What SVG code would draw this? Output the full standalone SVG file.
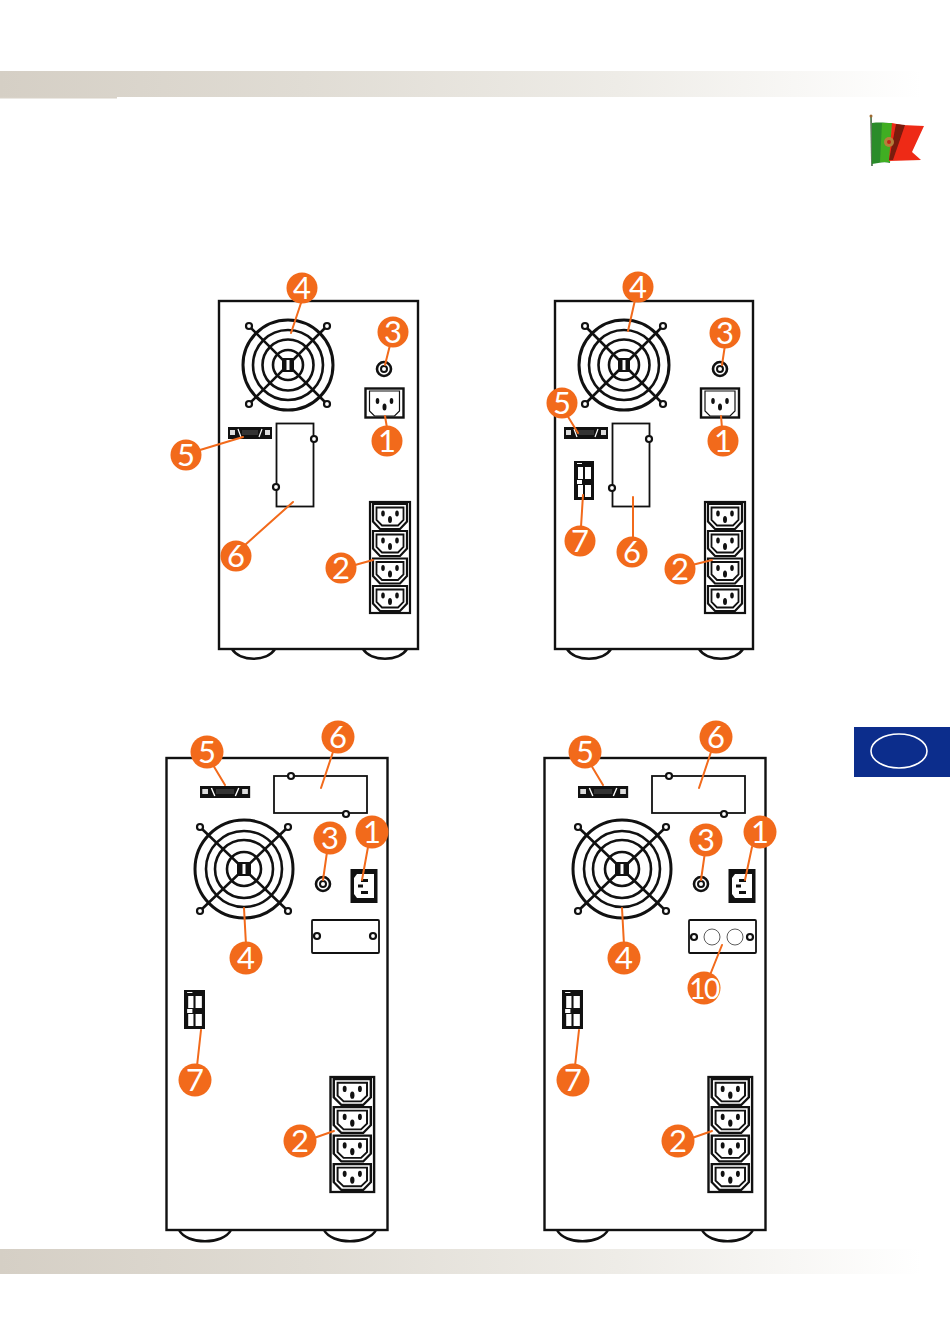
<svg xmlns="http://www.w3.org/2000/svg" xmlns:xlink="http://www.w3.org/1999/xlink" width="950" height="1343" viewBox="0 0 950 1343">
<style>
.o{fill:none;stroke:#111;stroke-width:2.6}
.t{fill:none;stroke:#111;stroke-width:1.8}
.r{fill:none;stroke:#111;stroke-width:2.6}
.h{fill:#fff;stroke:#111;stroke-width:2.2}
.c{stroke:#f26a1b;stroke-width:2;fill:none;stroke-linecap:round}
.b{fill:#f26a1b}
.n{fill:#fff;font-family:"Lato","Open Sans",sans-serif;font-size:31px;text-anchor:middle}
.k{fill:#111}
</style>
<defs>
<linearGradient id="bar" x1="0" x2="1" y1="0" y2="0"><stop offset="0" stop-color="#d5cfc5"/><stop offset="0.32" stop-color="#e0dcd4"/><stop offset="0.65" stop-color="#eeece7"/><stop offset="0.97" stop-color="#ffffff"/></linearGradient>
<filter id="soft" x="-10%" y="-10%" width="120%" height="120%"><feGaussianBlur stdDeviation="0.7"/></filter>
<g id="socket">
<path d="M-17,-12.500H17V5L10,12.500H-10L-17,5Z" fill="#fff" stroke="#111" stroke-width="2.200"/>
<path d="M-13.500,-9H13.500V3.500L8,9H-8L-13.500,3.500Z" fill="#fff" stroke="#111" stroke-width="1.800"/>
<ellipse cx="-7" cy="-3" rx="1.800" ry="3" class="k"/><ellipse cx="7" cy="-3" rx="1.800" ry="3" class="k"/><ellipse cx="0" cy="3" rx="2" ry="3.500" class="k"/>
</g>
<g id="strip">
<rect x="0" y="0" width="40" height="111" fill="#fff" stroke="#111" stroke-width="2.200"/>
<use xlink:href="#socket" x="20" y="14.500"/><use xlink:href="#socket" x="20" y="41.500"/><use xlink:href="#socket" x="20" y="69"/><use xlink:href="#socket" x="20" y="96.500"/>
</g>
<g id="fanS">
<circle r="45" class="r" style="stroke-width:3"/><circle r="35" class="r"/><circle r="25.500" class="r"/><circle r="15" class="r"/>
<path d="M-39,-39L39,39M39,-39L-39,39" class="r"/>
<circle cx="-39" cy="-39" r="3" class="h"/><circle cx="39" cy="-39" r="3" class="h"/><circle cx="-39" cy="39" r="3" class="h"/><circle cx="39" cy="39" r="3" class="h"/>
<rect x="-6" y="-7" width="12" height="14" class="k"/><rect x="-1.500" y="-5" width="3" height="10" fill="#fff"/>
</g>
<g id="fanL">
<circle r="49" class="r" style="stroke-width:3"/><circle r="38" class="r"/><circle r="29" class="r"/><circle r="17" class="r"/>
<path d="M-43,-41L43,41M43,-41L-43,41" class="r"/>
<circle cx="-44" cy="-42" r="3" class="h"/><circle cx="44" cy="-42" r="3" class="h"/><circle cx="-44" cy="42" r="3" class="h"/><circle cx="44" cy="42" r="3" class="h"/>
<rect x="-7" y="-7" width="14" height="14" class="k"/><rect x="-1.500" y="-5" width="3" height="10" fill="#fff"/>
</g>
<g id="port">
<rect x="0" y="0" width="44" height="12" class="k"/>
<rect x="2" y="3" width="5" height="5" fill="#ddd"/><rect x="37" y="3" width="5" height="5" fill="#ddd"/>
<path d="M10,2L13,10M34,2L31,10" stroke="#fff" stroke-width="1.200"/><rect x="14" y="3" width="16" height="5" fill="#333"/>
</g>
<g id="term">
<rect x="0" y="0" width="20" height="39" class="k"/>
<rect x="3" y="2" width="5" height="1" fill="#fff"/>
<rect x="4" y="6" width="5" height="12" fill="#fff"/><rect x="11" y="6" width="6" height="12" fill="#fff"/><rect x="4" y="24" width="5" height="12" fill="#fff"/><rect x="11" y="24" width="6" height="12" fill="#fff"/>
<rect x="3" y="19" width="5" height="4" fill="#fff"/>
</g>
<g id="sock1">
<rect x="-19" y="-14.500" width="38" height="29" fill="#fff" stroke="#111" stroke-width="2.400"/>
<path d="M-15,-12H15V8L10,13H-10L-15,8Z" fill="#fff" stroke="#111" stroke-width="1.200"/>
<ellipse cx="-7" cy="-2" rx="1.800" ry="3" class="k"/><ellipse cx="7" cy="-2" rx="1.800" ry="3" class="k"/><ellipse cx="0" cy="4" rx="2" ry="3.500" class="k"/>
</g>
<g id="sock2">
<rect x="-13.500" y="-17" width="27" height="34" class="k"/>
<path d="M-7,-12H10V12H-7L-10,8V-8Z" fill="#fff"/>
<rect x="-3" y="-7" width="7" height="3" class="k"/><rect x="-3" y="5" width="7" height="3" class="k"/><rect x="-6" y="-1.500" width="5" height="3" class="k"/>
</g>
<g id="knob"><circle r="7" fill="#fff" stroke="#111" stroke-width="2.600"/><circle r="3" fill="#fff" stroke="#111" stroke-width="2"/></g>
<g id="screw"><circle r="3" class="h"/></g>
</defs>

<g id="header-band"><rect x="0" y="71" width="950" height="26" fill="url(#bar)"/><rect x="0" y="97" width="117" height="1.500" fill="#d8d2c8"/></g>
<g id="footer-band"><rect x="0" y="1249" width="950" height="25" fill="url(#bar)"/></g>

<g id="flag" filter="url(#soft)">
<path d="M871,116L872,166" stroke="#5b7d5a" stroke-width="1.800"/>
<circle cx="871" cy="116" r="1.500" fill="#a06a30"/>
<path d="M872,123C880,122 886,123 892,123L890,163C884,161 878,163 872,164Z" fill="#2a8c2c"/>
<path d="M882,123L892,123L890,162L880,162Z" fill="#3fae22"/>
<path d="M892,123L902,125L924,126L912,152L921,160L889,161Z" fill="#ee2a16"/>
<path d="M896,124L905,125L893,160L889,160Z" fill="#7a1a10"/>
<circle cx="889" cy="142" r="5" fill="#b5803a"/><circle cx="889" cy="142" r="2" fill="#c0281a"/>
</g>

<g id="language-tab"><rect x="854" y="727" width="96" height="50" fill="#0c2d8c"/><ellipse cx="899" cy="751" rx="28" ry="17" fill="none" stroke="#fff" stroke-width="1.600"/></g>

<g id="unit-a">
<path d="M232,649C240,662 267,662 275,649M363,649C371,662 399,662 407,649" class="o"/>
<rect x="219" y="301" width="199" height="348" fill="#fff" stroke="#111" stroke-width="2.400"/>
<use xlink:href="#fanS" x="288" y="365"/>
<use xlink:href="#knob" x="384" y="369"/>
<use xlink:href="#sock1" x="384.500" y="403"/>
<use xlink:href="#port" x="228" y="427"/>
<rect x="276.500" y="423.500" width="37" height="83" class="t"/>
<use xlink:href="#screw" x="314" y="439"/><use xlink:href="#screw" x="276" y="487"/>
<use xlink:href="#strip" x="370" y="502"/>
</g>
<g id="unit-b">
<path d="M567,649C575,662 603,662 611,649M699,649C707,662 735,662 743,649" class="o"/>
<rect x="555" y="301" width="198" height="348" fill="#fff" stroke="#111" stroke-width="2.400"/>
<use xlink:href="#fanS" x="624" y="365"/>
<use xlink:href="#knob" x="720" y="369"/>
<use xlink:href="#sock1" x="720" y="403"/>
<use xlink:href="#port" x="564" y="427"/>
<rect x="612.500" y="423.500" width="37" height="83" class="t"/>
<use xlink:href="#screw" x="649" y="439"/><use xlink:href="#screw" x="612" y="488"/>
<use xlink:href="#term" x="574" y="461"/>
<use xlink:href="#strip" x="705" y="502"/>
</g>
<g id="unit-c">
<path d="M179,1230C187,1245 223,1245 231,1230M324,1230C332,1245 368,1245 376,1230" class="o"/>
<rect x="166.500" y="758" width="221" height="472" fill="#fff" stroke="#111" stroke-width="2.400"/>
<use xlink:href="#port" transform="translate(200,786) scale(1.140,1)"/>
<rect x="274" y="776" width="93" height="37" class="t"/>
<use xlink:href="#screw" x="291" y="776"/><use xlink:href="#screw" x="346" y="814"/>
<use xlink:href="#fanL" x="244" y="869"/>
<use xlink:href="#knob" x="323" y="884"/>
<use xlink:href="#sock2" x="364" y="886"/>
<rect x="312" y="920" width="67" height="33" rx="1" class="t"/>
<use xlink:href="#screw" x="317" y="936"/><use xlink:href="#screw" x="373" y="936"/>
<use xlink:href="#term" transform="translate(184,990) scale(1.050,1)"/>
<use xlink:href="#strip" transform="translate(330.500,1077) scale(1.090,1.036)"/>
</g>
<g id="unit-d">
<path d="M557,1230C565,1245 600,1245 608,1230M702,1230C710,1245 745,1245 753,1230" class="o"/>
<rect x="544.500" y="758" width="221" height="472" fill="#fff" stroke="#111" stroke-width="2.400"/>
<use xlink:href="#port" transform="translate(578,786) scale(1.140,1)"/>
<rect x="652" y="776" width="93" height="37" class="t"/>
<use xlink:href="#screw" x="669" y="776"/><use xlink:href="#screw" x="724" y="814"/>
<use xlink:href="#fanL" x="622" y="869"/>
<use xlink:href="#knob" x="701" y="884"/>
<use xlink:href="#sock2" x="742" y="886"/>
<rect x="689" y="920" width="67" height="33" rx="1" class="t"/>
<use xlink:href="#screw" x="694" y="937"/><use xlink:href="#screw" x="750" y="937"/>
<circle cx="712" cy="937" r="8" fill="#fff" stroke="#333" stroke-width="0.800"/><circle cx="735" cy="937" r="8" fill="#fff" stroke="#333" stroke-width="0.800"/>
<use xlink:href="#term" transform="translate(562,990) scale(1.050,1)"/>
<use xlink:href="#strip" transform="translate(708.500,1077) scale(1.090,1.036)"/>
</g>

<g id="connectors">
<path class="c" d="M302,300L291,333M390,345L385,365M387,428L385,416M200,450L243,437M245,545L293,502M355,565L373,560"/>
<path class="c" d="M635,300L628,331M725,345L722,365M722,428L721,416M567,415L578,433M581,527L583,495M633,537L633,497M692,565L712,560"/>
<path class="c" d="M213,765L225,785M333,752L321,788M327,852L323,880M368,847L362,880M246,945L244,908M197,1066L201,1030M314,1138L334,1131"/>
<path class="c" d="M591,765L603,785M711,752L699,788M705,852L701,880M752,847L745,880M624,945L622,908M575,1066L579,1030M692,1138L712,1131M710,975L722,945"/>
</g>

<g id="callouts-a">
<g id="a4"><circle class="b" cx="302" cy="288" r="15.500"/><text class="n" x="302" y="299">4</text></g>
<g id="a3"><circle class="b" cx="393" cy="332" r="15.500"/><text class="n" x="393" y="343">3</text></g>
<g id="a1"><circle class="b" cx="387" cy="441" r="15.500"/><text class="n" x="387" y="452">1</text></g>
<g id="a5"><circle class="b" cx="186" cy="455" r="15.500"/><text class="n" x="186" y="466">5</text></g>
<g id="a6"><circle class="b" cx="236" cy="556" r="15.500"/><text class="n" x="236" y="567">6</text></g>
<g id="a2"><circle class="b" cx="341" cy="568" r="15.500"/><text class="n" x="341" y="579">2</text></g>
</g>
<g id="callouts-b">
<g id="b4"><circle class="b" cx="638" cy="287" r="15.500"/><text class="n" x="638" y="298">4</text></g>
<g id="b3"><circle class="b" cx="725" cy="333" r="15.500"/><text class="n" x="725" y="344">3</text></g>
<g id="b5"><circle class="b" cx="562" cy="403" r="15.500"/><text class="n" x="562" y="414">5</text></g>
<g id="b1"><circle class="b" cx="723" cy="441" r="15.500"/><text class="n" x="723" y="452">1</text></g>
<g id="b7"><circle class="b" cx="580" cy="541" r="15.500"/><text class="n" x="580" y="552">7</text></g>
<g id="b6"><circle class="b" cx="632" cy="552" r="15.500"/><text class="n" x="632" y="563">6</text></g>
<g id="b2"><circle class="b" cx="680" cy="569" r="15.500"/><text class="n" x="680" y="580">2</text></g>
</g>
<g id="callouts-c">
<g id="c5"><circle class="b" cx="207" cy="752" r="16.500"/><text class="n" x="207" y="763">5</text></g>
<g id="c6"><circle class="b" cx="338" cy="737" r="16.500"/><text class="n" x="338" y="748">6</text></g>
<g id="c3"><circle class="b" cx="330" cy="838" r="16.500"/><text class="n" x="330" y="849">3</text></g>
<g id="c1"><circle class="b" cx="372" cy="832" r="16.500"/><text class="n" x="372" y="843">1</text></g>
<g id="c4"><circle class="b" cx="246" cy="958" r="16.500"/><text class="n" x="246" y="969">4</text></g>
<g id="c7"><circle class="b" cx="195" cy="1080" r="16.500"/><text class="n" x="195" y="1091">7</text></g>
<g id="c2"><circle class="b" cx="300" cy="1141" r="16.500"/><text class="n" x="300" y="1152">2</text></g>
</g>
<g id="callouts-d">
<g id="d5"><circle class="b" cx="585" cy="752" r="16.500"/><text class="n" x="585" y="763">5</text></g>
<g id="d6"><circle class="b" cx="716" cy="737" r="16.500"/><text class="n" x="716" y="748">6</text></g>
<g id="d3"><circle class="b" cx="706" cy="840" r="16.500"/><text class="n" x="706" y="851">3</text></g>
<g id="d1"><circle class="b" cx="760" cy="832" r="16.500"/><text class="n" x="760" y="843">1</text></g>
<g id="d4"><circle class="b" cx="624" cy="958" r="16.500"/><text class="n" x="624" y="969">4</text></g>
<g id="d10"><circle class="b" cx="704" cy="988" r="16.500"/><text class="n" x="704" y="999" style="font-size:28px" letter-spacing="-1.500">10</text></g>
<g id="d7"><circle class="b" cx="573" cy="1080" r="16.500"/><text class="n" x="573" y="1091">7</text></g>
<g id="d2"><circle class="b" cx="678" cy="1141" r="16.500"/><text class="n" x="678" y="1152">2</text></g>
</g>
</svg>
